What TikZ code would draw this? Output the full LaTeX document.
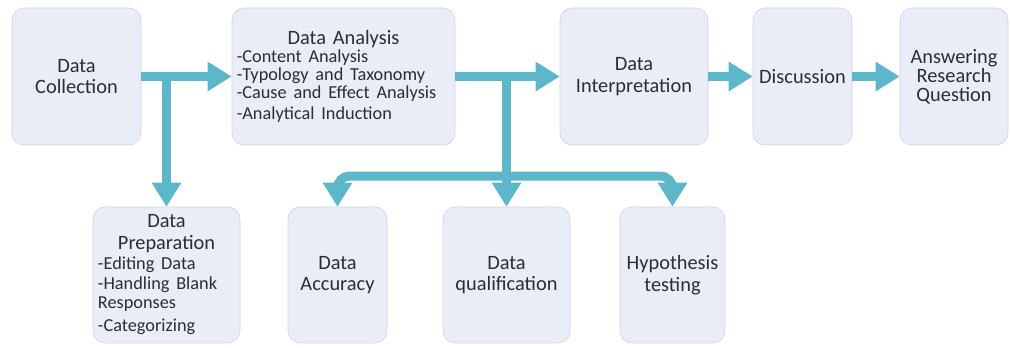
\documentclass[tikz,border=0pt]{standalone}
\usepackage{fontspec}
\setmainfont{Carlito}
\usepackage{tikz}
\usetikzlibrary{shapes,arrows.meta,positioning}

\definecolor{boxfill}{RGB}{233,237,247}
\definecolor{boxline}{RGB}{205,210,220}
\definecolor{flowblue}{RGB}{93,183,203}
\definecolor{textgray}{RGB}{45,45,52}

\begin{document}
\begin{tikzpicture}[node distance=2cm,
        stage/.style={draw=boxline, fill=boxfill, rounded corners=0.3cm, minimum height=3.425cm, text=textgray, font=\fontsize{14.5}{15.5}\selectfont, align=center},
        flow/.style={draw=flowblue, line width=0.225cm, -{Triangle[length=0.6cm,width=0.7cm]}}]
        \useasboundingbox (-1.9125,1.9125) rectangle (23.3625,-6.7625);

        % Top row
        \node (coll) [stage, minimum width=3.225cm] {Data\\Collection};
        \node (ana) [stage, right of=coll, xshift=4.675cm, minimum width=5.575cm, text width=5.335cm, inner xsep=0.12cm, align=left] {{\centering Data Analysis\par}\fontsize{13}{12.8}\selectfont -Content Analysis\\-Typology and Taxonomy\\-Cause and Effect Analysis\\-Analytical Induction};
        \node (interp) [stage, right of=ana, xshift=5.2625cm, minimum width=3.7cm] {Data\\Interpretation};
        \node (disc) [stage, right of=interp, xshift=2.2125cm, minimum width=2.475cm] {Discussion};
        \node (ans) [stage, right of=disc, xshift=1.7875cm, minimum width=2.7cm, font=\fontsize{14.5}{13.5}\selectfont] {Answering\\Research\\Question};

        % Bottom row
        \node (prep) [stage, below of=coll, yshift=-2.9625cm, xshift=2.25cm, minimum width=3.675cm, minimum height=3.4cm, text width=3.425cm, inner xsep=0.125cm, align=left] {{\centering Data\\Preparation\par}\fontsize{13}{14}\selectfont -Editing Data\\-Handling Blank\\Responses\\[1pt]-Categorizing};
        \node (acc) [stage, right of=prep, xshift=2.275cm, minimum width=2.475cm, minimum height=3.4cm] {Data\\Accuracy};
        \node (qual) [stage, right of=acc, xshift=2.225cm, minimum width=3.175cm, minimum height=3.4cm] {Data\\qualification};
        \node (hyp) [stage, right of=qual, xshift=2.15cm, minimum width=2.625cm, minimum height=3.4cm] {Hypothesis\\testing};
        \node (fork) [coordinate, above of=qual, yshift=0.475cm] {};

        % Arrows
        \draw [flow] (coll) -- (ana);
        \draw [flow] (prep |- coll) -- (prep);
        \draw [flow] (ana) -- (interp);
        \draw [flow] (qual |- ana) -- (qual);
        \draw [flow, rounded corners=0.3cm] (fork) -| (acc);
        \draw [flow, rounded corners=0.3cm] (fork) -| (hyp);
        \draw [flow] (interp) -- (disc);
        \draw [flow] (disc) -- (ans);
    \end{tikzpicture}
\end{document}
